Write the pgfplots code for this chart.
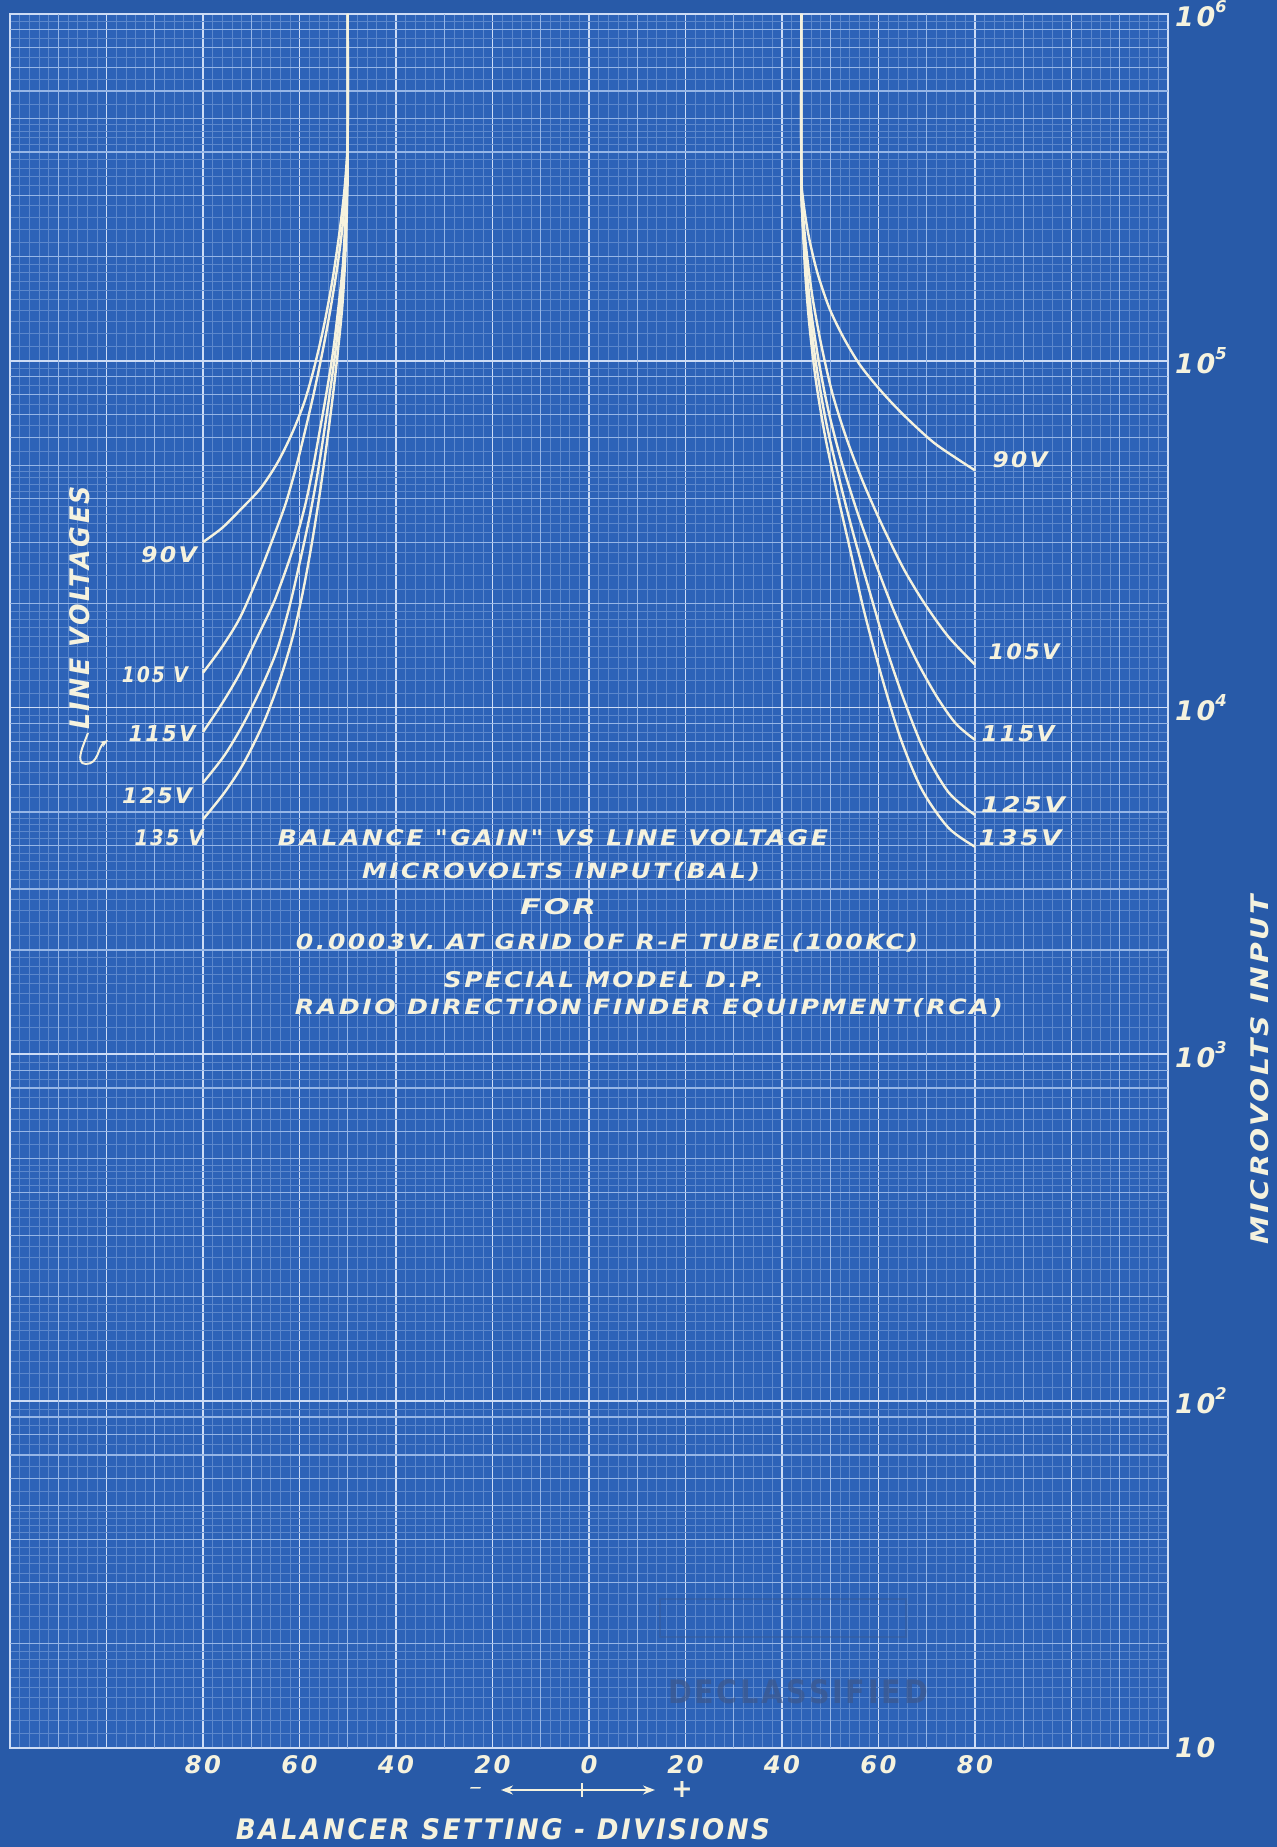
\documentclass[border=0pt]{standalone}
\usepackage{fontspec}
\usepackage{graphicx}
\usepackage{pgfplots}
\pgfplotsset{compat=1.18}
\usetikzlibrary{arrows.meta}
\newfontfamily\handfont{DejaVu Sans}[LetterSpace=10]
\definecolor{outerbg}{RGB}{40,90,168}
\definecolor{plotbg}{RGB}{45,99,184}
\definecolor{gridheavy}{RGB}{205,220,245}
\definecolor{gridmed}{RGB}{150,182,230}
\definecolor{gridfine}{RGB}{92,136,204}
\definecolor{ink}{RGB}{245,242,222}
\definecolor{stamp}{RGB}{62,88,140}
\newcommand\hs[3]{\resizebox{#1}{#2}{\handfont\bfseries\itshape #3}}
\newcommand\hh[2]{\resizebox{!}{#1}{\handfont\bfseries\itshape #2}}
\newcommand\yl[1]{\hh{10pt}{10}\raisebox{7pt}{\hh{6pt}{#1}}}
\def\finedec#1{1.1e#1,1.2e#1,1.3e#1,1.4e#1,1.5e#1,1.6e#1,1.7e#1,1.8e#1,1.9e#1,2.2e#1,2.4e#1,2.6e#1,2.8e#1,3.2e#1,3.4e#1,3.6e#1,3.8e#1,4.2e#1,4.4e#1,4.6e#1,4.8e#1,5.5e#1,6.5e#1,7.5e#1,8.5e#1,9.5e#1}
\def\meddec#1{2e#1,3e#1,4e#1,5e#1,6e#1,7e#1,8e#1,9e#1}
\edef\fineall{\finedec1,\finedec2,\finedec3,\finedec4,\finedec5}
\edef\medall{\meddec1,\meddec2,\meddec3,\meddec4,\meddec5}
\pgfplotsset{curve/.style={draw=ink, line width=1.2pt, smooth, tension=0.5, mark=none}}
\begin{document}
\begin{tikzpicture}
\useasboundingbox (0,0) rectangle (638.5pt,923.5pt);
\fill[outerbg] (0,0) rectangle (638.5pt,923.5pt);
\begin{axis}[
  at={(5pt,49.5pt)}, anchor=south west,
  scale only axis, width=579pt, height=867pt,
  xmin=-120, xmax=120, ymode=log, ymin=10, ymax=1e6,
  clip=false,
  axis background/.style={fill=plotbg},
  axis line style={draw=gridheavy, line width=1pt},
  major tick length=0pt, minor tick length=0pt,
  xtick={-120,-100,...,120},
  xticklabels={,,\hh{9pt}{80},\hh{9pt}{60},\hh{9pt}{40},\hh{9pt}{20},\hh{9pt}{0},\hh{9pt}{20},\hh{9pt}{40},\hh{9pt}{60},\hh{9pt}{80},,},
  minor x tick num=9,
  ytick={10,100,1000,10000,100000,1000000},
  yticklabels={\hh{10pt}{10},\yl{2},\yl{3},\yl{4},\yl{5},\yl{6}},
  yticklabel pos=right,
  minor ytick/.expanded={\fineall},
  extra x ticks={-110,-90,...,110},
  extra y ticks/.expanded={\medall},
  extra tick style={grid=major, major grid style={draw=gridmed, line width=0.6pt}, xticklabel={}, yticklabel={}},
  grid=both,
  major grid style={draw=gridheavy, line width=0.9pt},
  minor grid style={draw=gridfine, line width=0.3pt},
  tick label style={text=ink},
]
% left branch: 90 V, 105 V, 115 V, 125 V, 135 V
\addplot[curve] coordinates {(-80,3.0e4) (-76,3.3e4) (-72,3.75e4) (-68,4.3e4) (-64.5,5.1e4) (-61.5,6.2e4) (-59,7.6e4) (-57,9.5e4) (-55,1.25e5) (-53.2,1.7e5) (-51.8,2.3e5) (-50.8,3.0e5) (-50.2,3.8e5) (-50,4.6e5) (-50,1e6)};
\addplot[curve] coordinates {(-80,1.26e4) (-76,1.5e4) (-72.3,1.82e4) (-68.5,2.4e4) (-65.4,3.1e4) (-62.8,3.9e4) (-60.6,5.0e4) (-58.7,6.4e4) (-57,8.1e4) (-55.3,1.05e5) (-53.7,1.38e5) (-52.2,1.85e5) (-51,2.5e5) (-50.3,3.4e5) (-50,4.5e5) (-50,1e6)};
\addplot[curve] coordinates {(-80,8.5e3) (-76,1.03e4) (-72.3,1.26e4) (-68.7,1.6e4) (-65.4,2.0e4) (-62.8,2.5e4) (-60.6,3.1e4) (-58.7,3.9e4) (-57.1,5.0e4) (-55.7,6.4e4) (-54.4,8.1e4) (-53.1,1.05e5) (-52,1.4e5) (-51,1.9e5) (-50.4,2.7e5) (-50.1,3.6e5) (-50,4.6e5) (-50,1e6)};
\addplot[curve] coordinates {(-80,6.07e3) (-75.5,7.3e3) (-71.6,9.0e3) (-67.8,1.15e4) (-64.7,1.46e4) (-62.1,1.95e4) (-59.9,2.64e4) (-58,3.5e4) (-56.4,4.6e4) (-55,6.1e4) (-53.7,8.1e4) (-52.5,1.08e5) (-51.5,1.45e5) (-50.8,2.0e5) (-50.3,2.8e5) (-50.05,3.7e5) (-50,4.6e5) (-50,1e6)};
\addplot[curve] coordinates {(-80,4.76e3) (-75.5,5.7e3) (-71.6,6.9e3) (-67.5,9.0e3) (-64,1.21e4) (-61.4,1.6e4) (-59.2,2.19e4) (-57.4,3.0e4) (-55.8,4.14e4) (-54.4,5.7e4) (-53,8.1e4) (-52,1.08e5) (-51.1,1.45e5) (-50.5,2.0e5) (-50.15,2.8e5) (-50,3.7e5) (-50,1e6)};
% right branch: 90 V, 105 V, 115 V, 125 V, 135 V
\addplot[curve] coordinates {(44,1e6) (44,3.6e5) (44.4,2.9e5) (45.5,2.3e5) (47.3,1.8e5) (49.8,1.42e5) (52.7,1.17e5) (56,9.8e4) (59.5,8.5e4) (63,7.5e4) (67,6.6e4) (71.5,5.8e4) (76,5.25e4) (80,4.83e4)};
\addplot[curve] coordinates {(44,1e6) (44,3.4e5) (44.4,2.6e5) (45.2,2.0e5) (46.4,1.5e5) (48.2,1.1e5) (50.5,8.0e4) (53.5,5.9e4) (57,4.4e4) (61,3.3e4) (65.3,2.5e4) (69.5,2.0e4) (74.5,1.6e4) (80,1.33e4)};
\addplot[curve] coordinates {(44,1e6) (44,3.4e5) (44.3,2.5e5) (45,1.9e5) (46,1.4e5) (47.6,1.0e5) (49.6,7.2e4) (52.2,5.2e4) (55.5,3.7e4) (59.2,2.65e4) (63.2,1.9e4) (67.5,1.4e4) (72,1.08e4) (76,9.0e3) (80,8.07e3)};
\addplot[curve] coordinates {(44,1e6) (44,3.4e5) (44.3,2.5e5) (44.9,1.85e5) (45.8,1.35e5) (47.2,9.5e4) (49.2,6.6e4) (51.8,4.6e4) (54.7,3.2e4) (58,2.2e4) (61.5,1.5e4) (65.3,1.05e4) (69.5,7.5e3) (74.5,5.7e3) (80,4.9e3)};
\addplot[curve] coordinates {(44,1e6) (44,3.4e5) (44.3,2.5e5) (44.8,1.8e5) (45.6,1.3e5) (46.9,9.0e4) (48.8,6.2e4) (51.2,4.3e4) (54,2.9e4) (57,1.9e4) (60.5,1.25e4) (64.5,8.2e3) (69,5.8e3) (74.5,4.5e3) (80,3.97e3)};
\end{axis}
\begin{scope}[every node/.style={text=ink, inner sep=0pt}]
% title block
\node at (276.5pt,504.5pt) {\hs{275pt}{8pt}{BALANCE "GAIN" VS LINE VOLTAGE}};
\node at (280.5pt,487.5pt) {\hs{199pt}{8pt}{MICROVOLTS INPUT(BAL)}};
\node at (279pt,470pt) {\hs{38pt}{8pt}{FOR}};
\node at (303.5pt,452pt) {\hs{311pt}{8pt}{0.0003V. AT GRID OF R-F TUBE (100KC)}};
\node at (302pt,433.5pt) {\hs{160pt}{8pt}{SPECIAL MODEL D.P.}};
\node at (324.5pt,419.5pt) {\hs{354pt}{8pt}{RADIO DIRECTION FINDER EQUIPMENT(RCA)}};
% curve labels left
\node at (84.5pt,646pt) {\hs{28pt}{8pt}{90V}};
\node at (77.5pt,586pt) {\hs{33pt}{8pt}{105 V}};
\node at (81pt,556.5pt) {\hs{33.5pt}{8pt}{115V}};
\node at (78.5pt,525.5pt) {\hs{35pt}{8pt}{125V}};
\node at (84.5pt,504.5pt) {\hs{34.5pt}{8pt}{135 V}};
% curve labels right
\node at (510pt,693.5pt) {\hs{27.5pt}{8pt}{90V}};
\node at (512pt,597.5pt) {\hs{35.5pt}{8pt}{105V}};
\node at (509pt,556.5pt) {\hs{36.5pt}{8pt}{115V}};
\node at (511.5pt,521pt) {\hs{42pt}{8pt}{125V}};
\node at (510pt,504.5pt) {\hs{41.5pt}{8pt}{135V}};
% axis texts
\node[rotate=90] at (40pt,619.5pt) {\hs{122pt}{10pt}{LINE VOLTAGES}};
\node[rotate=90] at (630pt,388.5pt) {\hs{175pt}{9pt}{MICROVOLTS INPUT}};
\node at (251.5pt,9pt) {\hs{267pt}{10.5pt}{BALANCER SETTING - DIVISIONS}};
\node at (238pt,28.5pt) {\hs{7pt}{2pt}{-}};
\node at (341pt,28.5pt) {\hh{8pt}{+}};
\node[text=stamp, opacity=0.7] at (399pt,77.5pt) {\resizebox{130pt}{12pt}{\handfont\bfseries DECLASSIFIED}};
\end{scope}
\draw[stamp, opacity=0.35, line width=1pt] (330pt,105pt) rectangle (453pt,124pt);
\draw[ink, line width=1.3pt, {Stealth[length=6pt]}-{Stealth[length=6pt]}] (250.5pt,28.5pt) -- (327.5pt,28.5pt);
\draw[ink, line width=0.8pt] (291pt,25pt) -- (291pt,32pt);
\draw[ink, line width=1pt, -{Stealth[length=4pt]}] (44pt,557pt) to[out=250,in=180] (43pt,541.5pt) to[out=0,in=215] (54pt,553.5pt);
\end{tikzpicture}
\end{document}
